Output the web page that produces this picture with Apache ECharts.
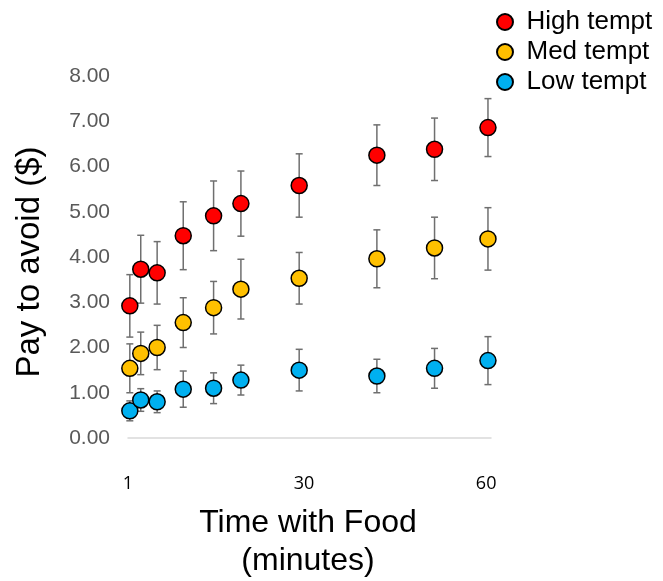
<!DOCTYPE html>
<html>
<head>
<meta charset="utf-8">
<script src="https://cdn.jsdelivr.net/npm/echarts@6/dist/echarts.min.js"></script>
<style>
  html, body { margin: 0; padding: 0; background: #fff; }
  #chart { width: 663px; height: 581px; }
</style>
</head>
<body>
<div id="chart"></div>
<script>
// Time points (minutes)
const times = [1.3, 3.1, 5.8, 10.1, 15.1, 19.6, 29.2, 42.0, 51.5, 60.3];
const xTickValues = [1, 30, 60];
const yTickMax = 8;

const seriesNames = ['High tempt', 'Med tempt', 'Low tempt'];
const highMean = [2.92, 3.73, 3.65, 4.47, 4.91, 5.18, 5.58, 6.25, 6.38, 6.86];
const highErr  = [0.69, 0.75, 0.69, 0.75, 0.77, 0.72, 0.70, 0.67, 0.69, 0.64];
const medMean  = [1.54, 1.87, 2.00, 2.55, 2.88, 3.29, 3.53, 3.96, 4.20, 4.40];
const medErr   = [0.54, 0.47, 0.49, 0.55, 0.58, 0.66, 0.57, 0.64, 0.68, 0.69];
const lowMean  = [0.60, 0.84, 0.80, 1.08, 1.10, 1.28, 1.50, 1.37, 1.54, 1.71];
const lowErr   = [0.22, 0.25, 0.24, 0.40, 0.34, 0.33, 0.46, 0.37, 0.44, 0.53];

const colors = ['#FF0000', '#FFC000', '#00B0F0'];
const means = [highMean, medMean, lowMean];
const errs = [highErr, medErr, lowErr];

const chart = echarts.init(document.getElementById('chart'), null, { renderer: 'canvas' });

function errorData(m, e) {
  return times.map((t, i) => [t, m[i] - e[i], m[i] + e[i]]);
}

function renderError(params, api) {
  const x = api.value(0);
  const top = api.coord([x, api.value(2)]);
  const bot = api.coord([x, api.value(1)]);
  const hw = 3.5;
  const st = { stroke: '#6f6f6f', lineWidth: 1.5 };
  return {
    type: 'group',
    children: [
      { type: 'line', shape: { x1: top[0], y1: top[1], x2: bot[0], y2: bot[1] }, style: st },
      { type: 'line', shape: { x1: top[0] - hw, y1: top[1], x2: top[0] + hw, y2: top[1] }, style: st },
      { type: 'line', shape: { x1: bot[0] - hw, y1: bot[1], x2: bot[0] + hw, y2: bot[1] }, style: st }
    ]
  };
}

const series = [];
// error bars first (drawn below)
[2, 1, 0].forEach(k => {
  series.push({
    type: 'custom',
    name: seriesNames[k] + ' err',
    renderItem: renderError,
    data: errorData(means[k], errs[k]),
    z: 1,
    silent: true
  });
});
[2, 1, 0].forEach(k => {
  series.push({
    type: 'scatter',
    name: seriesNames[k],
    data: times.map((t, i) => [t, means[k][i]]),
    symbol: 'circle',
    symbolSize: 16,
    itemStyle: { color: colors[k], borderColor: '#000', borderWidth: 1.5, opacity: 1 },
    z: 3
  });
});

chart.setOption({
  animation: false,
  backgroundColor: '#ffffff',
  grid: { left: 128, right: 172, top: 76, bottom: 143, containLabel: false },
  legend: {
    data: seriesNames,
    orient: 'vertical',
    left: 491,
    top: 4,
    padding: 5,
    icon: 'circle',
    itemWidth: 17,
    itemHeight: 16,
    itemGap: 4,
    textStyle: { fontFamily: 'Liberation Sans', fontSize: 26, color: '#000', padding: [0, 0, 0, 8] }
  },
  xAxis: {
    type: 'value',
    min: 1,
    max: 60.8,
    splitLine: { show: false },
    axisLine: { show: true, lineStyle: { color: '#d9d9d9', width: 1.5 } },
    axisTick: { show: false },
    axisLabel: {
      customValues: xTickValues,
      margin: 37,
      fontFamily: 'Open Sans',
      fontSize: 18,
      color: '#000'
    }
  },
  yAxis: {
    type: 'value',
    min: 0,
    max: yTickMax,
    interval: 1,
    splitLine: { show: false },
    axisLine: { show: false },
    axisTick: { show: false },
    axisLabel: {
      margin: 18,
      fontFamily: 'Liberation Sans',
      fontSize: 21,
      color: '#595959',
      formatter: v => v.toFixed(2)
    }
  },
  graphic: [
    {
      type: 'text',
      x: 30, y: 262,
      rotation: Math.PI / 2,
      style: {
        text: 'Pay to avoid ($)',
        fontFamily: 'Liberation Sans',
        fontSize: 33,
        fill: '#000',
        textAlign: 'center',
        textVerticalAlign: 'middle'
      }
    },
    {
      type: 'text',
      x: 308, y: 542,
      style: {
        text: 'Time with Food\n(minutes)',
        fontFamily: 'Liberation Sans',
        fontSize: 32,
        lineHeight: 38,
        fill: '#000',
        textAlign: 'center',
        textVerticalAlign: 'middle'
      }
    }
  ],
  series: series
});
</script>
</body>
</html>
